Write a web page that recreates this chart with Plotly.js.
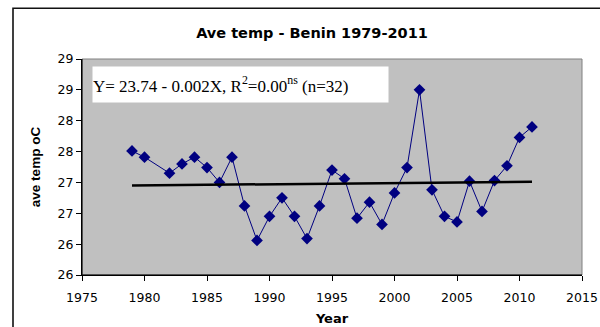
<!DOCTYPE html>
<html><head><meta charset="utf-8">
<script src="https://cdn.plot.ly/plotly-3.0.1.min.js"></script>
<style>html,body{margin:0;padding:0;background:#fff;}#chart{width:600px;height:327px;}</style>
</head><body><div id="chart"></div>
<script>
const years = [1979,1980,1982,1983,1984,1985,1986,1987,1988,1989,1990,1991,1992,1993,1994,1995,1996,1997,1998,1999,2000,2001,2002,2003,2004,2005,2006,2007,2008,2009,2010,2011];
const temps = [27.51,27.41,27.15,27.30,27.41,27.24,27.00,27.41,26.62,26.06,26.45,26.75,26.45,26.09,26.62,27.20,27.06,26.42,26.68,26.32,26.83,27.24,28.50,26.88,26.45,26.36,27.02,26.53,27.03,27.27,27.73,27.90];
const trendYears = [1979, 2011];
const trendVals = [26.95, 27.01];
const yTickVals = [25.5,26,26.5,27,27.5,28,28.5,29];
const yTickText = ['26','26','27','27','28','28','29','29'];
const xTickVals = [1975,1980,1985,1990,1995,2000,2005,2010,2015];

const data = [
  {x: years, y: temps, type:'scatter', mode:'lines+markers',
   line:{color:'#000080', width:1},
   marker:{symbol:'diamond', size:9, color:'#000080'}, showlegend:false},
  {x: trendYears, y: trendVals, type:'scatter', mode:'lines',
   line:{color:'#000000', width:2.5}, showlegend:false}
];

const sans = 'DejaVu Sans, Arial, sans-serif';
const layout = {
  width:600, height:327,
  margin:{l:82, r:17.5, t:59, b:52},
  paper_bgcolor:'#ffffff', plot_bgcolor:'#c0c0c0',
  font:{family:sans, size:12.5, color:'#000'},
  title:{text:'<b>Ave temp - Benin 1979-2011</b>', x:0.52, xanchor:'center', y:0.9, yanchor:'middle', font:{family:sans, size:14.5, color:'#000'}},
  xaxis:{range:[1975,2015], tickvals:xTickVals, ticks:'outside', ticklen:5, tickcolor:'#000',
    showgrid:false, zeroline:false, showline:true, linecolor:'#000', linewidth:1, mirror:false,
    ticklabelstandoff:6,
    title:{text:'<b>Year</b>', font:{family:sans, size:13}, standoff:9}, tickfont:{family:sans, size:12.5}},
  yaxis:{range:[25.5,29], tickvals:yTickVals, ticktext:yTickText, ticks:'outside', ticklen:5, tickcolor:'#000',
    showgrid:false, zeroline:false, showline:true, linecolor:'#000', linewidth:1,
    title:{text:'<b>ave temp oC</b>', font:{family:'Liberation Sans, Arial, sans-serif', size:13.5}, standoff:13}, tickfont:{family:sans, size:12.5}},
  shapes:[
    {type:'rect', xref:'paper', yref:'paper', x0:0, x1:1, y0:0, y1:1, line:{color:'#808080', width:1}, fillcolor:'rgba(0,0,0,0)', layer:'below'},
    {type:'line', xref:'paper', yref:'paper', x0:0, x1:0, y0:0, y1:1, line:{color:'#000', width:1}},
    {type:'line', xref:'paper', yref:'paper', x0:0, x1:1, y0:0, y1:0, line:{color:'#000', width:1}},
    {type:'rect', xref:'paper', yref:'paper', x0:-0.138, x1:1.06, y0:-0.3, y1:1.235, line:{color:'#111', width:1.6}, fillcolor:'rgba(0,0,0,0)'}
  ],
  annotations:[
    {xref:'paper', yref:'paper', x:0.019, y:0.9695, xanchor:'left', yanchor:'top',
     text:'Y= 23.74 - 0.002X, R<sup>2</sup>=0.00<sup>ns</sup> (n=32)', showarrow:false,
     bgcolor:'#ffffff', width:295, height:35, align:'left', borderpad:0,
     font:{family:'Liberation Serif, Times New Roman, serif', size:17, color:'#000'}}
  ]
};
Plotly.newPlot('chart', data, layout, {staticPlot:true});
</script></body></html>
